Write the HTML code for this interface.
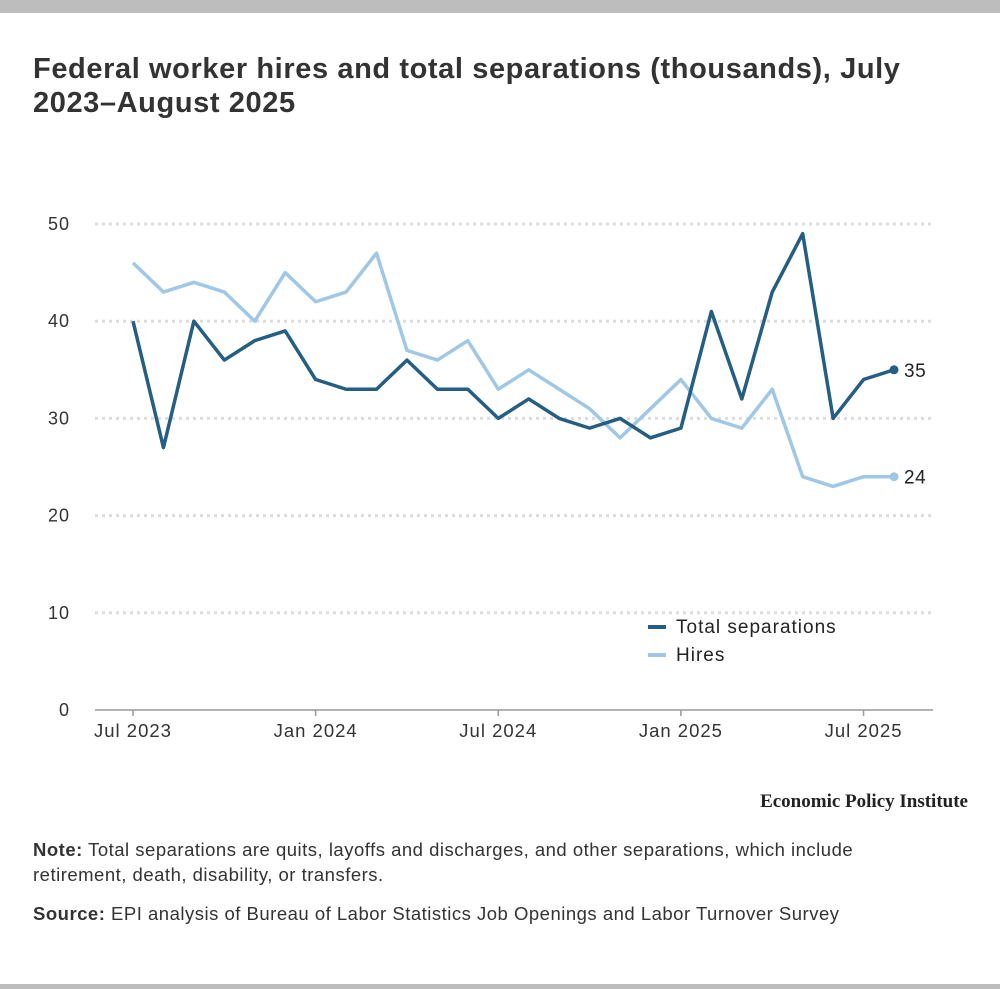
<!DOCTYPE html>
<html><head><meta charset="utf-8">
<style>
body{margin:0;width:1000px;height:989px;background:#fff;font-family:"Liberation Sans",sans-serif;position:relative;overflow:hidden}
.bar{position:absolute;left:0;width:1000px;background:#bdbdbd}
h1{position:absolute;left:33px;top:52px;margin:0;font-size:29px;line-height:34px;color:#333;font-weight:bold;width:920px;letter-spacing:0.6px}
.note{position:absolute;left:33px;font-size:18.5px;color:#333;line-height:25px;width:870px;letter-spacing:0.5px}
</style></head><body>
<div class="bar" style="top:0;height:13px"></div>
<div class="bar" style="top:984px;height:5px"></div>
<h1>Federal worker hires and total separations (thousands), July 2023–August 2025</h1>
<svg id="chart" width="1000" height="800" style="position:absolute;left:0;top:0"></svg>
<div style="position:absolute;right:32px;top:791px;font-family:'Liberation Serif',serif;font-weight:bold;font-size:19px;color:#222">Economic Policy Institute</div>
<div class="note" style="top:837px"><b>Note:</b> Total separations are quits, layoffs and discharges, and other separations, which include retirement, death, disability, or transfers.</div>
<div class="note" style="top:901px"><b>Source:</b> EPI analysis of Bureau of Labor Statistics Job Openings and Labor Turnover Survey</div>
<script>
const yTicks=[0,10,20,30,40,50];
const xTickLabels=["Jul 2023","Jan 2024","Jul 2024","Jan 2025","Jul 2025"];
const xTickIdx=[0,6,12,18,24];
const separations=[40,27,40,36,38,39,34,33,33,36,33,33,30,32,30,29,30,28,29,41,32,43,49,30,34,35];
const hires=[46,43,44,43,40,45,42,43,47,37,36,38,33,35,33,31,28,31,34,30,29,33,24,23,24,24];
const svg=document.getElementById('chart');
const NS='http://www.w3.org/2000/svg';
const x=i=>133+i*(894-133)/25;
const y=v=>710-v*(710-224)/50;
function mk(t,a){const e=document.createElementNS(NS,t);for(const k in a)e.setAttribute(k,a[k]);svg.appendChild(e);return e;}
yTicks.forEach(v=>{
 if(v>0){const g=mk('line',{x1:95,x2:933,y1:y(v),y2:y(v),stroke:'#ddd','stroke-width':3,'stroke-dasharray':'3,4'});
 
 }
 const t=mk('text',{x:70,y:y(v)+6,'text-anchor':'end','font-size':18,fill:'#333','letter-spacing':1});t.textContent=v;
 
 
});
const ax=mk('line',{x1:95,x2:933,y1:710,y2:710,stroke:'#999','stroke-width':1.5});


xTickIdx.forEach((i,k)=>{
 mk('line',{x1:x(i),x2:x(i),y1:710,y2:716,stroke:'#999','stroke-width':1.5});
 const t=mk('text',{x:x(i),y:737,'text-anchor':'middle','font-size':18.5,fill:'#333','letter-spacing':1});t.textContent=xTickLabels[k];
 
 
});
function series(d,c,name){
 const p=mk('polyline',{points:d.map((v,i)=>x(i)+','+y(v)).join(' '),fill:'none',stroke:c,'stroke-width':3.5,'stroke-linejoin':'round'});
 
 
 const n=d.length-1;
 const c2=mk('circle',{cx:x(n),cy:y(d[n]),r:4.5,fill:c});
 
 
 const t=mk('text',{x:x(n)+10,y:y(d[n])+7,'font-size':19,fill:'#222','letter-spacing':0.5});t.textContent=d[n];
 
 
}
series(hires,'#9fc7e6','hires');
series(separations,'#245e82','separations');
[['Total separations','#245e82',627],['Hires','#9fc7e6',655]].forEach(([l,c,yy])=>{
 mk('line',{x1:648,x2:666,y1:yy,y2:yy,stroke:c,'stroke-width':4});
 const t=mk('text',{x:676,y:yy+6,'font-size':19,fill:'#222','letter-spacing':1});t.textContent=l;
 
 
});
</script>
</body></html>
